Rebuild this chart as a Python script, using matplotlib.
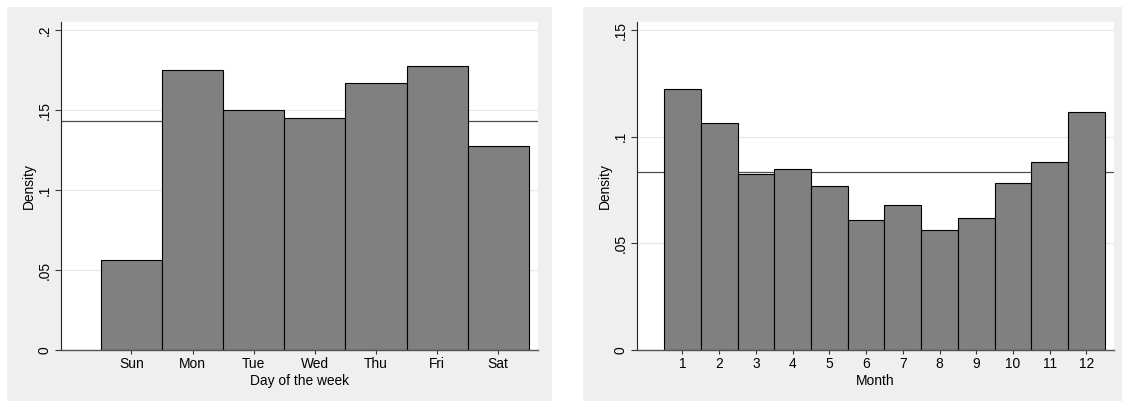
import matplotlib
matplotlib.use("Agg")
import matplotlib.pyplot as plt
from matplotlib.patches import Rectangle

plt.rcParams['font.family'] = ['Liberation Sans', 'DejaVu Sans']

# day-of-week histogram (density)
dow_labels = ['Sun', 'Mon', 'Tue', 'Wed', 'Thu', 'Fri', 'Sat']
dow_density = [0.0563, 0.1752, 0.1498, 0.1448, 0.1669, 0.1777, 0.1273]
dow_ref = 0.1429

# month histogram (density)
month_labels = [str(m) for m in range(1, 13)]
month_density = [0.1222, 0.1064, 0.0824, 0.0847, 0.0770, 0.0611,
                 0.0678, 0.0564, 0.0620, 0.0784, 0.0880, 0.1116]
month_ref = 0.0833

dow_yticks = [0, 0.05, 0.1, 0.15, 0.2]
dow_yticklabels = ['0', '.05', '.1', '.15', '.2']
month_yticks = [0, 0.05, 0.1, 0.15]
month_yticklabels = ['0', '.05', '.1', '.15']

W, H = 1122, 401
fig = plt.figure(figsize=(W / 100, H / 100), dpi=100)

# gray graph regions behind each panel (pixel boxes -> figure fraction)
for x0, x1 in [(7, 552), (583, 1122)]:
    fig.patches.append(Rectangle((x0 / W, 0), (x1 - x0) / W, (H - 7) / H,
                                 transform=fig.transFigure, facecolor='#efefef',
                                 edgecolor='none', zorder=-10))

FS = 9.9


def draw_panel(ax, x, heights, labels, ref, yticks, yticklabels, xlim, ylim, xlabel):
    ax.set_facecolor('white')
    for t in yticks:
        ax.axhline(t, color='#e6e6e6', lw=0.8, zorder=0)
    ax.axhline(ref, color='#4d4d4d', lw=0.9, zorder=1)
    ax.bar(x, heights, width=1.0, color='#808080', edgecolor='black', lw=0.8, zorder=2)
    ax.set_xlim(*xlim)
    ax.set_ylim(*ylim)
    ax.set_xticks(x)
    ax.set_xticklabels(labels, fontsize=FS)
    ax.set_yticks(yticks)
    ax.set_yticklabels(yticklabels, fontsize=FS, rotation=90, va='center')
    ax.tick_params(axis='y', length=4, width=0.8, color='#333333', pad=3)
    ax.tick_params(axis='x', length=3.2, width=0.8, color='#333333', pad=1.5)
    for s in ['top', 'right']:
        ax.spines[s].set_visible(False)
    ax.spines['left'].set_color('#222222')
    ax.spines['left'].set_linewidth(0.8)
    ax.spines['bottom'].set_color('#555555')
    ax.spines['bottom'].set_linewidth(1.0)
    ax.set_xlabel(xlabel, fontsize=FS)
    ax.set_ylabel('Density', fontsize=FS)
    ax.xaxis.set_label_coords(0.5, -0.073)
    ax.yaxis.set_label_coords(-0.053, 0.5)


ax1 = fig.add_axes([61.4 / W, 51 / H, 476.3 / W, 328.3 / H])
draw_panel(ax1, list(range(len(dow_labels))), dow_density, dow_labels, dow_ref,
           dow_yticks, dow_yticklabels, (-1.145, 6.646), (0, 0.2052), 'Day of the week')

ax2 = fig.add_axes([637 / W, 51 / H, 477 / W, 328.3 / H])
draw_panel(ax2, list(range(1, 13)), month_density, month_labels, month_ref,
           month_yticks, month_yticklabels, (-0.237, 12.75), (0, 0.1539), 'Month')

fig.savefig('out.png', dpi=100)
